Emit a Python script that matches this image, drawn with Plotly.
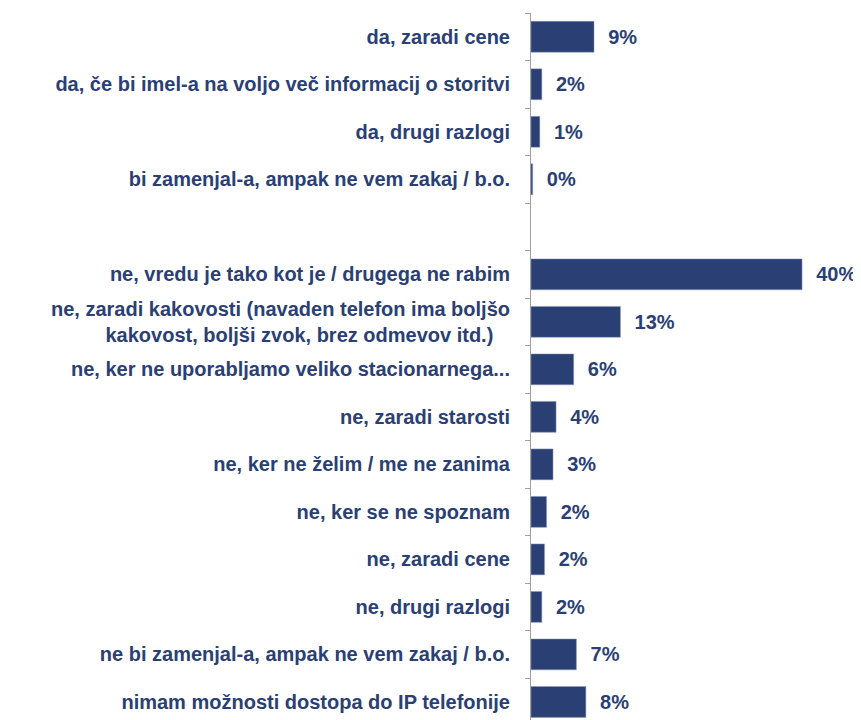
import plotly.graph_objects as go

categories = [
    "da, zaradi cene",
    "da, če bi imel-a na voljo več informacij o storitvi",
    "da, drugi razlogi",
    "bi zamenjal-a, ampak ne vem zakaj / b.o.",
    " ",
    "ne, vredu je tako kot je / drugega ne rabim",
    "ne, zaradi kakovosti (navaden telefon ima boljšo<br>kakovost, boljši zvok, brez odmevov itd.)\u00a0\u00a0\u00a0",
    "ne, ker ne uporabljamo veliko stacionarnega...",
    "ne, zaradi starosti",
    "ne, ker ne želim / me ne zanima",
    "ne, ker se ne spoznam",
    "ne, zaradi cene",
    "ne, drugi razlogi",
    "ne bi zamenjal-a, ampak ne vem zakaj / b.o.",
    "nimam možnosti dostopa do IP telefonije",
]
values = [9.3, 1.6, 1.3, 0.25, None, 40.0, 13.2, 6.3, 3.7, 3.25, 2.3, 2.0, 1.6, 6.7, 8.1]
labels = [("\u00a0\u00a0%.0f%%" % v) if v is not None else "" for v in values]

navy = "#2A4074"
fam = "Liberation Sans, Arial"

fig = go.Figure(go.Bar(
    y=categories, x=values, orientation="h",
    marker=dict(color=navy, line=dict(color="#8e9bbd", width=0.5)),
    text=labels, textposition="outside", cliponaxis=False,
    textfont=dict(family=fam, size=20, color=navy, weight="bold"),
))
fig.update_layout(
    width=853, height=712,
    margin=dict(l=523, r=0, t=5, b=0),
    paper_bgcolor="white", plot_bgcolor="white",
    bargap=0.35, showlegend=False,
    font=dict(family=fam, size=20, color=navy, weight="bold"),
    uniformtext=dict(mode=False),
)
fig.update_xaxes(range=[0, 48.7], visible=False, showgrid=False, zeroline=False, automargin=False)
fig.update_yaxes(
    type="category", categoryorder="array", categoryarray=categories,
    range=[14.38, -0.5], showgrid=False, zeroline=False, automargin=False,
    showline=True, linecolor="#a0a0a0", linewidth=1,
    ticks="outside", ticklen=5, tickcolor="#a0a0a0", tickson="boundaries",
    tickfont=dict(family=fam, size=20, color=navy, weight="bold"),
    ticklabelstandoff=16,
)
fig.write_html("out.html")
